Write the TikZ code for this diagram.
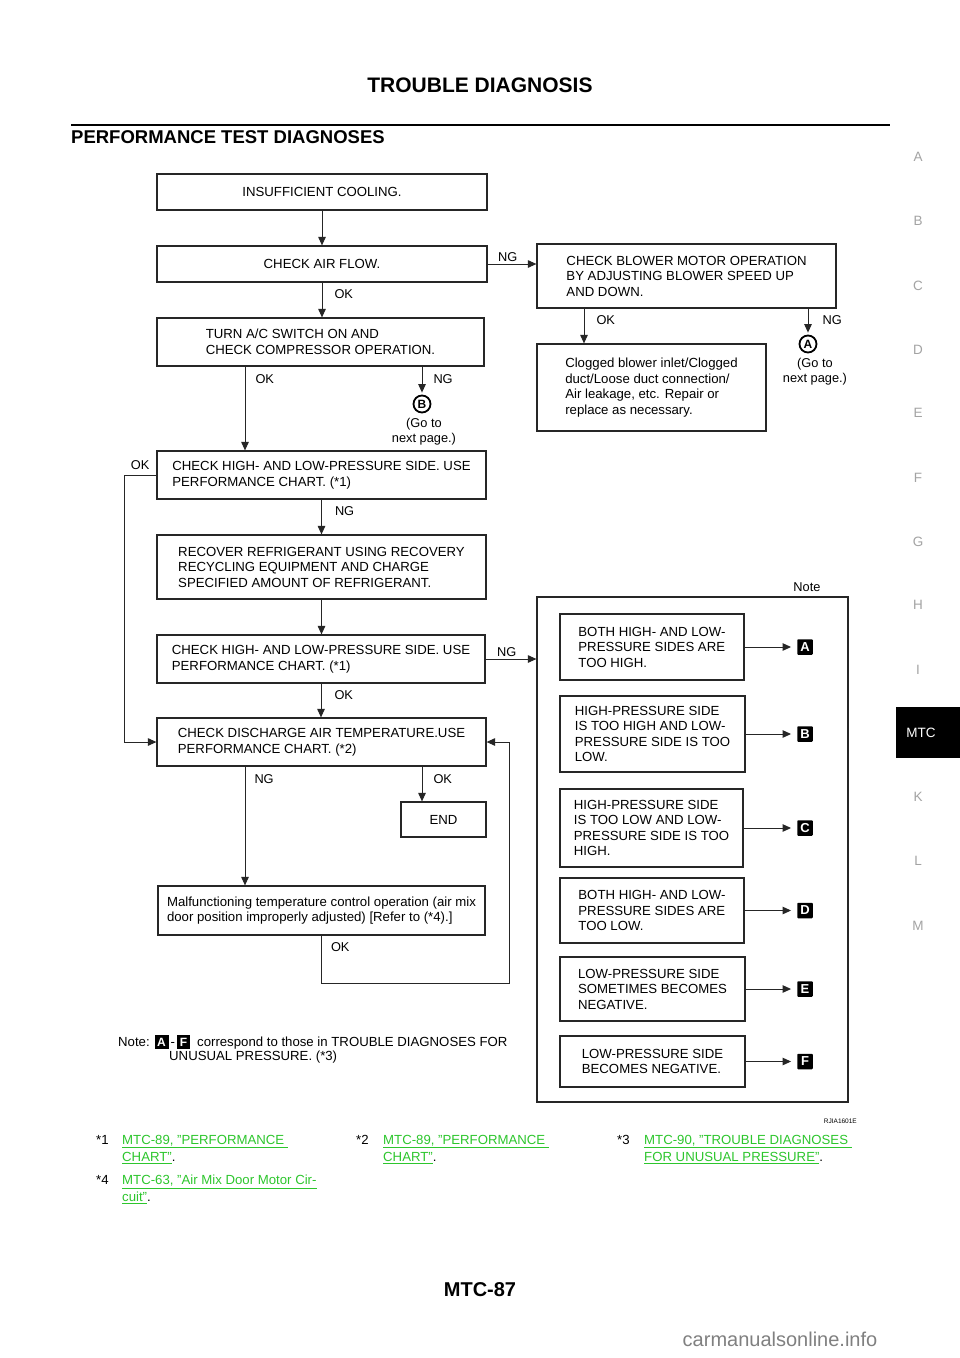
\documentclass[tikz,border=0pt]{standalone}
\usepackage{fontspec}
\setmainfont{Liberation Sans}
\usepackage{xcolor}
\definecolor{diag-line}{HTML}{262626}
\definecolor{diag-link}{HTML}{2DC62D}
\definecolor{diag-tab}{HTML}{A3A3A3}
\definecolor{diag-mark}{HTML}{808080}
\usepackage{tikz}
\usetikzlibrary{positioning,arrows.meta}
\newcommand\lettertag[1]{{\setlength\fboxsep{2.6pt}\colorbox{black}{\textcolor{white}{\bfseries\fontsize{12}{12}\selectfont #1}}}}
\newcommand\linktext[1]{\textcolor{diag-link}{\underline{#1}}}

\begin{document}
\begin{tikzpicture}[
  x=1pt, y=-1pt,
  font=\fontsize{13.2}{15.5}\selectfont,
  every node/.style={text=black},
  block/.style={rectangle, draw=diag-line, line width=1.2pt, inner sep=3pt, align=left, fill=white},
  lbl/.style={inner sep=0pt, font=\fontsize{12.8}{15}\selectfont},
  arrow/.style={-{Triangle[length=8.5pt, width=7.5pt]}, line width=1pt, diag-line},
  tagbox/.style={rectangle, fill=black, text=white, minimum size=15.5pt, inner sep=0pt, rounded corners=0.8pt, font=\bfseries\fontsize{13}{13}\selectfont},
  goto/.style={circle, draw=black, line width=1.8pt, minimum size=17pt, inner sep=0pt, font=\bfseries\fontsize{12}{12}\selectfont},
  tab/.style={inner sep=0pt, text=diag-tab, font=\fontsize{13.5}{15}\selectfont},
  textline/.style={inner sep=0pt, align=left, anchor=north west, font=\fontsize{13.2}{17}\selectfont}
]
  \useasboundingbox (0,0) rectangle (960,1358);
  \fill[white] (0,0) rectangle (960,1358);

  % page header
  \node[inner sep=0pt, font=\bfseries\fontsize{21}{24}\selectfont] (title) at (480,85) {TROUBLE DIAGNOSIS};
  \draw[line width=2.6pt] (71,125) -- (890,125);
  \node[inner sep=0pt, anchor=west, font=\bfseries\fontsize{18.5}{22}\selectfont] (section) at (71,137.5) {PERFORMANCE TEST DIAGNOSES};

  % side index
  \foreach \l/\y in {A/157, B/221, C/286, D/350, E/413, F/478, G/542, H/605, I/670, K/797, L/861, M/926} {
    \node[tab] (tab\l) at (918,\y) {\l};
  }
  \node[fill=black, minimum width=64pt, minimum height=51pt, inner sep=0pt] (tabbox) at (928,732.5) {};
  \node[tab, text=white] (tabMTC) at (921,733) {MTC};

  \coordinate (colL) at (245,0);
  \coordinate (colR) at (422,0);
  \coordinate (colB) at (584,0);
  \coordinate (loopL) at (124,475);
  \coordinate (loopR) at (509,983);

  \node[block, minimum width=330pt, minimum height=36pt] (cool) at (322,192) {INSUFFICIENT COOLING.};
  \node[block, minimum width=330pt, minimum height=36pt] (airflow) at (322,264) {CHECK AIR FLOW.};
  \node[block, minimum width=327pt, minimum height=48pt] (compr) at (320.5,342) {TURN A/C SWITCH ON AND\\CHECK COMPRESSOR OPERATION.};
  \node[block, minimum width=299pt, minimum height=64pt] (blower) at (686.5,276) {CHECK BLOWER MOTOR OPERATION\\BY ADJUSTING BLOWER SPEED UP\\AND DOWN.};
  \node[block, minimum width=229pt, minimum height=87pt] (clogged) at (651.5,387.5) {Clogged blower inlet/Clogged\\duct/Loose duct connection/\\Air leakage, etc. Repair or\\replace as necessary.};
  \node[goto] (goA) at (808,344) {A};
  \node[lbl, align=center, below=5pt of goA, xshift=7pt] (nextA) {(Go to\\next page.)};
  \node[goto] (goB) at (422,404) {B};
  \node[lbl, align=center, below=5pt of goB, xshift=2pt] (nextB) {(Go to\\next page.)};
  \node[block, minimum width=329pt, minimum height=48pt] (chart1) at (321.5,475) {CHECK HIGH- AND LOW-PRESSURE SIDE. USE\\PERFORMANCE CHART. (*1)};
  \node[block, minimum width=329pt, minimum height=64pt] (recover) at (321.5,567) {RECOVER REFRIGERANT USING RECOVERY\\RECYCLING EQUIPMENT AND CHARGE\\SPECIFIED AMOUNT OF REFRIGERANT.};
  \node[block, minimum width=328pt, minimum height=48pt] (chart2) at (321,659) {CHECK HIGH- AND LOW-PRESSURE SIDE. USE\\PERFORMANCE CHART. (*1)};
  \node[block, minimum width=329pt, minimum height=48pt] (discharge) at (321.5,742) {CHECK DISCHARGE AIR TEMPERATURE.USE\\PERFORMANCE CHART. (*2)};
  \node[block, minimum width=85pt, minimum height=35pt] (finish) at (443.5,819.5) {END};
  \node[block, minimum width=327pt, minimum height=49pt] (tempctl) at (321.5,910.5) {Malfunctioning temperature control operation (air mix\\door position improperly adjusted) [Refer to (*4).]};

  % note panel
  \node[block, minimum width=311pt, minimum height=505pt] (note) at (692.5,849.5) {};
  \node[lbl] (notehd) at (807,587) {Note};
  \node[block, minimum width=184pt, minimum height=66pt] (nA) at (652,647) {BOTH HIGH- AND LOW-\\PRESSURE SIDES ARE\\TOO HIGH.};
  \node[block, minimum width=185pt, minimum height=76pt] (nB) at (652.5,734) {HIGH-PRESSURE SIDE\\IS TOO HIGH AND LOW-\\PRESSURE SIDE IS TOO\\LOW.};
  \node[block, minimum width=183pt, minimum height=78pt] (nC) at (651.5,828) {HIGH-PRESSURE SIDE\\IS TOO LOW AND LOW-\\PRESSURE SIDE IS TOO\\HIGH.};
  \node[block, minimum width=184pt, minimum height=65pt] (nD) at (652,910.5) {BOTH HIGH- AND LOW-\\PRESSURE SIDES ARE\\TOO LOW.};
  \node[block, minimum width=185pt, minimum height=64pt] (nE) at (652.5,989) {LOW-PRESSURE SIDE\\SOMETIMES BECOMES\\NEGATIVE.};
  \node[block, minimum width=185pt, minimum height=51pt] (nF) at (652.5,1061.5) {LOW-PRESSURE SIDE\\BECOMES NEGATIVE.};
  \foreach \t/\y in {A/647, B/734, C/828, D/910.5, E/989, F/1061.5} {
    \node[tagbox] (m\t) at (805,\y) {\t};
    \draw[arrow, shorten >=6pt] (n\t.east) -- (m\t.west);
  }

  \draw[arrow] (cool.south) -- (airflow.north);
  \draw[arrow] (airflow.east) node[lbl, above right=2pt and 10pt] (ngAir) {NG} -- (airflow.east -| blower.west);
  \draw[arrow] (airflow.south) node[lbl, below right=6pt and 12pt] (okAir) {OK} -- (airflow.south |- compr.north);
  \draw[arrow, shorten >=2pt] (compr.south -| goB) node[lbl, below right=7pt and 11pt] (ngCompr) {NG} -- (goB.north);
  \draw[arrow] (compr.south -| colL) node[lbl, below right=7pt and 10pt] (okCompr) {OK} -- (chart1.north -| colL);
  \draw[arrow] (blower.south -| colB) node[lbl, below right=6pt and 12pt] (okBlow) {OK} -- (clogged.north -| colB);
  \draw[arrow, shorten >=2pt] (blower.south -| goA) node[lbl, below right=6pt and 14pt] (ngBlow) {NG} -- (goA.north);
  \draw[arrow] (chart1.south) node[lbl, below right=6pt and 13pt] (ngChart1) {NG} -- (chart1.south |- recover.north);
  \draw[arrow] (chart1.west) -- (loopL) node[lbl, midway, above=5pt] (okChart1) {OK} |- (discharge.west);
  \draw[arrow] (recover.south) -- (recover.south |- chart2.north);
  \draw[arrow] (chart2.east) node[lbl, above right=2pt and 11pt] (ngChart2) {NG} -- (chart2.east -| note.west);
  \draw[arrow] (chart2.south) node[lbl, below right=6pt and 13pt] (okChart2) {OK} -- (chart2.south |- discharge.north);
  \draw[arrow] (discharge.south -| colL) node[lbl, below right=7pt and 9pt] (ngDis) {NG} -- (tempctl.north -| colL);
  \draw[arrow] (discharge.south -| colR) node[lbl, below right=7pt and 11pt] (okDis) {OK} -- (finish.north -| colR);
  \draw[arrow] (tempctl.south) node[lbl, below right=6pt and 9pt] (okTemp) {OK} |- (loopR) |- (discharge.east);

  \node[textline, anchor=west] (notetext) at (118,1042) {Note: \lettertag{A}\,-\,\lettertag{F}\ \ correspond to those in TROUBLE DIAGNOSES FOR};
  \node[textline, anchor=west] (notetext2) at (169,1057) {UNUSUAL PRESSURE. (*3)};
  \node[inner sep=0pt, anchor=east, font=\fontsize{6.5}{7}\selectfont] (figid) at (857,1121) {RJIA1601E};

  % references
  \node[textline, anchor=west] (fn1) at (96,1140) {*1};
  \node[textline] (fn1link) at (122,1135) {\linktext{MTC-89, "PERFORMANCE\ }\\\linktext{CHART"}.};
  \node[textline, anchor=west] (fn2) at (356,1140) {*2};
  \node[textline] (fn2link) at (383,1135) {\linktext{MTC-89, "PERFORMANCE\ }\\\linktext{CHART"}.};
  \node[textline, anchor=west] (fn3) at (617,1140) {*3};
  \node[textline] (fn3link) at (644,1135) {\linktext{MTC-90, "TROUBLE DIAGNOSES\ }\\\linktext{FOR UNUSUAL PRESSURE"}.};
  \node[textline, anchor=west] (fn4) at (96,1180) {*4};
  \node[textline] (fn4link) at (122,1175) {\linktext{MTC-63, "Air Mix Door Motor Cir-}\\\linktext{cuit"}.};

  \node[inner sep=0pt, font=\bfseries\fontsize{20}{24}\selectfont] (pageno) at (480,1290) {MTC-87};
  \node[inner sep=0pt, text=diag-mark, font=\fontsize{20}{24}\selectfont] (wmark) at (780,1339) {carmanualsonline.info};
\end{tikzpicture}
\end{document}
